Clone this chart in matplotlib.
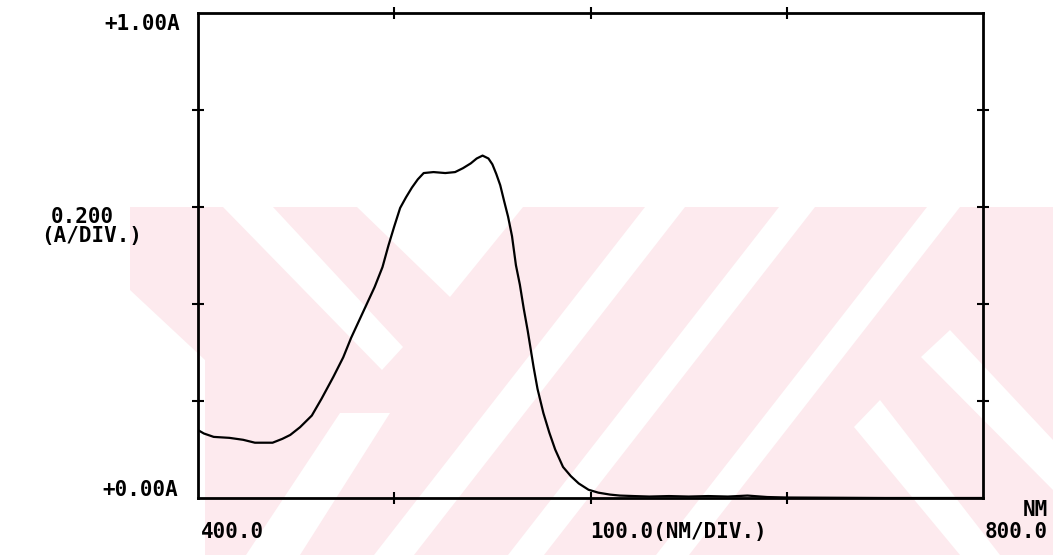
import numpy as np
import matplotlib
matplotlib.use("Agg")
import matplotlib.pyplot as plt
from matplotlib.patches import Polygon

# Spectrum (wavelength in nm, absorbance in A)
wavelength = [400, 403, 408, 416, 423, 429, 438, 443, 447, 452, 458, 463, 469, 474,
              478, 482, 486, 490, 494, 497, 500, 503, 506, 509, 512, 515, 520, 526,
              531, 535, 539, 542, 545, 548, 550, 552, 554, 556, 558, 560, 562, 564,
              566, 568, 571, 573, 576, 579, 582, 586, 590, 594, 599, 604, 610, 615,
              622, 630, 640, 650, 660, 670, 680, 690, 700, 750, 800]
absorbance = [0.140, 0.133, 0.126, 0.124, 0.120, 0.114, 0.114, 0.122, 0.130, 0.146,
              0.170, 0.205, 0.250, 0.290, 0.330, 0.365, 0.400, 0.435, 0.476, 0.520,
              0.560, 0.598, 0.620, 0.640, 0.657, 0.670, 0.672, 0.670, 0.672, 0.680,
              0.690, 0.700, 0.706, 0.700, 0.688, 0.668, 0.645, 0.612, 0.580, 0.540,
              0.480, 0.440, 0.390, 0.345, 0.270, 0.225, 0.175, 0.135, 0.100, 0.064,
              0.045, 0.030, 0.017, 0.011, 0.007, 0.005, 0.004, 0.003, 0.004, 0.003,
              0.004, 0.003, 0.005, 0.002, 0.001, 0.0, 0.0]

x_ticks = [500, 600, 700]
y_ticks = [0.2, 0.4, 0.6, 0.8]

W, H = 1053, 555
fig = plt.figure(figsize=(W / 100, H / 100), dpi=100)


def px(points):
    # pixel coords (origin top-left) -> figure fraction
    return [(x / W, 1 - y / H) for x, y in points]


# faint pink watermark behind the plot
pink = "#fdeaee"
fig.add_artist(Polygon(px([(130, 207), (1053, 207), (1053, 555), (130, 555)]),
                       closed=True, fc=pink, ec="none", zorder=0))
white_shapes = [
    [(130, 290), (130, 555), (205, 555), (205, 360)],
    [(246, 555), (300, 555), (390, 413), (340, 413)],
    [(223, 207), (273, 207), (403, 347), (382, 370)],
    [(357, 207), (523, 207), (450, 297)],
    [(645, 207), (685, 207), (414, 555), (374, 555)],
    [(779, 207), (815, 207), (544, 555), (508, 555)],
    [(927, 207), (960, 207), (689, 555), (656, 555)],
    [(921, 357), (950, 330), (1053, 440), (1053, 490)],
    [(854, 427), (880, 400), (1000, 555), (960, 555)],
]
for shape in white_shapes:
    fig.add_artist(Polygon(px(shape), closed=True, fc="white", ec="none", zorder=0))

ax = fig.add_axes([198 / W, 1 - 498 / H, (983 - 198) / W, (498 - 13) / H])
ax.set_facecolor("none")
ax.plot(wavelength, absorbance, color="black", lw=1.6)

ax.set_xlim(400, 800)
ax.set_ylim(0, 1.0)
ax.set_xticks(x_ticks)
ax.set_yticks(y_ticks)
ax.tick_params(direction="inout", length=9, width=1.5, top=True, right=True,
               labelbottom=False, labelleft=False)
for s in ax.spines.values():
    s.set_linewidth(2)

font = dict(family="DejaVu Sans Mono", weight="bold", size=15, color="black")

fig.text(180 / W, 1 - 24 / H, "+1.00A", ha="right", va="center", **font)
fig.text(82 / W, 1 - 217 / H, "0.200", ha="center", va="center", **font)
fig.text(92 / W, 1 - 236 / H, "(A/DIV.)", ha="center", va="center", **font)
fig.text(178 / W, 1 - 490 / H, "+0.00A", ha="right", va="center", **font)
fig.text(233 / W, 1 - 532 / H, "400.0", ha="center", va="center", **font)
fig.text(678 / W, 1 - 532 / H, "100.0(NM/DIV.)", ha="center", va="center", **font)
fig.text(1048 / W, 1 - 510 / H, "NM", ha="right", va="center", **font)
fig.text(1048 / W, 1 - 532 / H, "800.0", ha="right", va="center", **font)

fig.savefig("out.png", dpi=100)
